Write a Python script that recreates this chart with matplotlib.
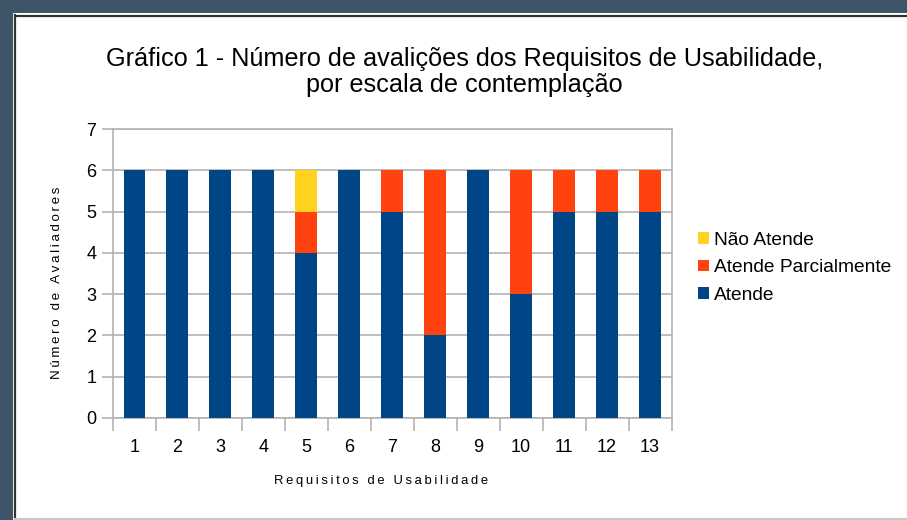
import matplotlib.pyplot as plt
from matplotlib.patches import Rectangle
from matplotlib.lines import Line2D
import numpy as np

plt.rcParams['font.family'] = ['Liberation Sans', 'DejaVu Sans']

# dados
requisitos = ['1', '2', '3', '4', '5', '6', '7', '8', '9', '10', '11', '12', '13']
atende = [6, 6, 6, 6, 4, 6, 5, 2, 6, 3, 5, 5, 5]
atende_parcial = [0, 0, 0, 0, 1, 0, 1, 4, 0, 3, 1, 1, 1]
nao_atende = [0, 0, 0, 0, 1, 0, 0, 0, 0, 0, 0, 0, 0]

cor_atende = '#004586'
cor_parcial = '#ff420e'
cor_nao = '#ffd320'
cinza = '#b3b3b3'


def espacado(texto):
    # imita o espaçamento entre letras dos títulos de eixo
    return '\u2009'.join(texto)


W, H = 907, 520
fig = plt.figure(figsize=(W / 100, H / 100), dpi=100, facecolor='#3e5469')

# moldura branca da janela
fig.patches.append(Rectangle((13 / W, 0), 1, 1 - 13 / H, transform=fig.transFigure,
                             facecolor='white', edgecolor='none', zorder=-10))
fig.lines.append(Line2D([14.5 / W, 14.5 / W], [0, 1 - 15 / H], transform=fig.transFigure,
                        color='#333333', lw=1.6))
fig.lines.append(Line2D([14.5 / W, 1], [1 - 15.5 / H, 1 - 15.5 / H], transform=fig.transFigure,
                        color='#333333', lw=1.6))
fig.lines.append(Line2D([14.5 / W, 1], [1.2 / H, 1.2 / H], transform=fig.transFigure,
                        color='#c8c8c8', lw=1.5))

ax = fig.add_axes([113 / W, 1 - 418 / H, (671.5 - 113) / W, (418 - 129) / H])
x = np.arange(1, len(requisitos) + 1)
largura = 0.51

base2 = np.array(atende)
base3 = base2 + np.array(atende_parcial)
ax.bar(x, atende, largura, color=cor_atende, label='Atende', zorder=3)
ax.bar(x, atende_parcial, largura, bottom=base2, color=cor_parcial,
       label='Atende Parcialmente', zorder=3)
ax.bar(x, nao_atende, largura, bottom=base3, color=cor_nao, label='Não Atende', zorder=3)

ax.set_xlim(0.5, len(requisitos) + 0.5)
ax.set_ylim(0, 7)
ax.set_yticks(range(0, 8))
ax.yaxis.grid(True, color=cinza, lw=1.2, zorder=0)
for s in ax.spines.values():
    s.set_color(cinza)
    s.set_linewidth(1.2)

ax.set_xticks(np.arange(0.5, len(requisitos) + 1, 1))
ax.set_xticklabels([])
ax.set_xticks(x, minor=True)
ax.set_xticklabels(requisitos, minor=True)
ax.tick_params(axis='x', which='major', length=9, color=cinza, width=1.2)
ax.tick_params(axis='x', which='minor', length=0, pad=15, labelsize=13)
ax.tick_params(axis='y', length=8, color=cinza, width=1.2, labelsize=13, pad=4)

# títulos dos eixos nas posições do original
fig.text(381 / W, 1 - 481 / H, espacado('Requisitos de Usabilidade'), fontsize=9.4,
         ha='center', va='center')
fig.text(57 / W, 1 - 283 / H, espacado('Número de Avaliadores'), fontsize=9.6,
         ha='center', va='center', rotation=90)

fig.text(0.512, 1 - 72 / H, 'Gráfico 1 - Número de avalições dos Requisitos de Usabilidade,\n'
         'por escala de contemplação', ha='center', va='center', fontsize=18.2,
         linespacing=1.1)

handles, labels = ax.get_legend_handles_labels()
fig.legend(handles[::-1], labels[::-1], loc='center left', bbox_to_anchor=(681 / W, 1 - 268 / H),
           frameon=False, fontsize=13.8, handlelength=0.55, handleheight=0.55,
           handletextpad=0.25, labelspacing=0.55)

fig.savefig('out.png', dpi=100, facecolor=fig.get_facecolor())
